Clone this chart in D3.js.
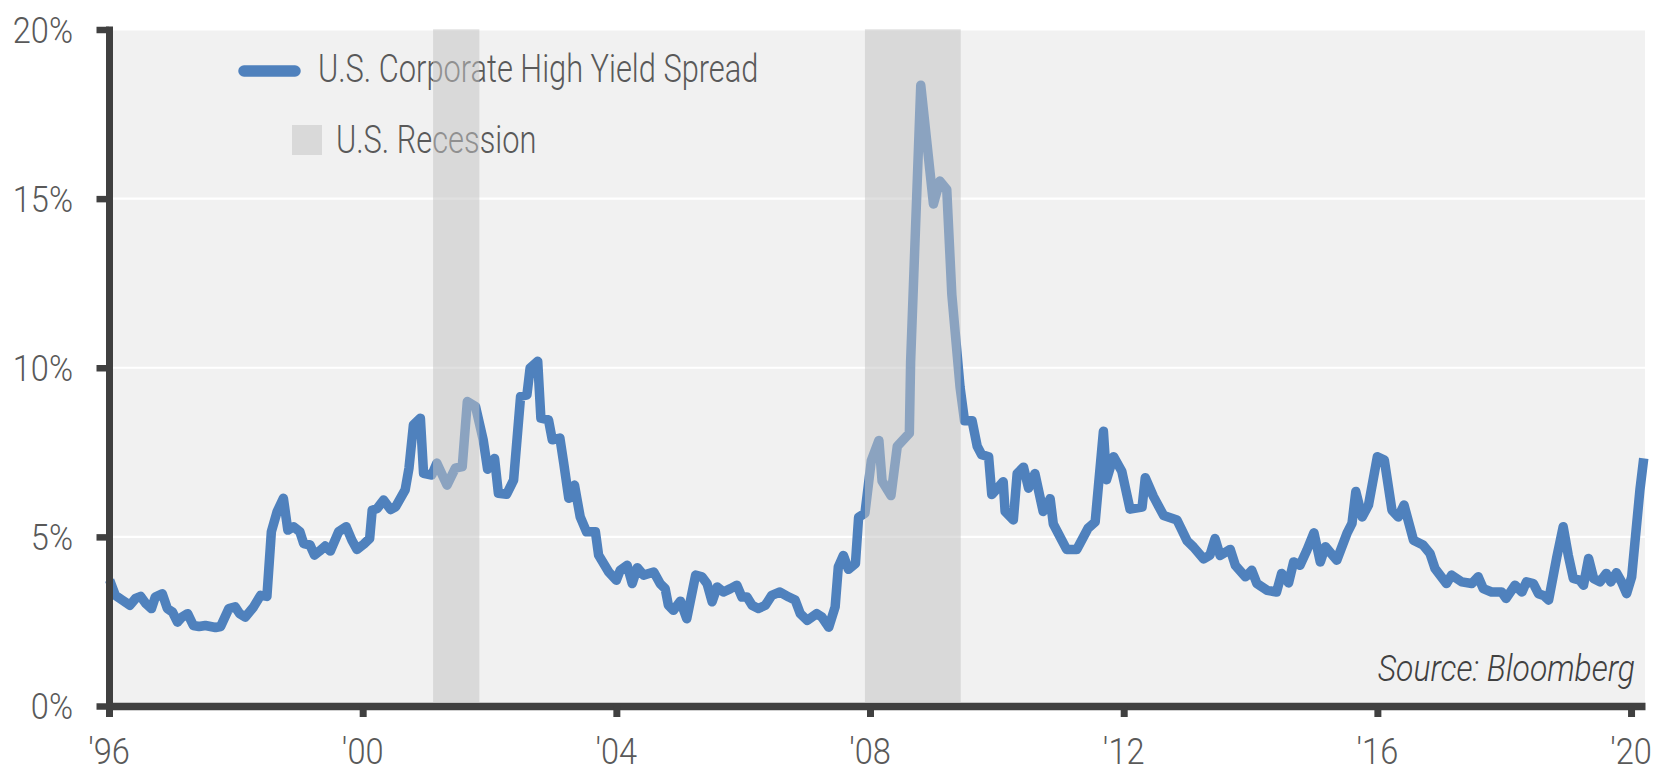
<!DOCTYPE html>
<html><head><meta charset="utf-8">
<script src="https://cdn.jsdelivr.net/npm/d3@7"></script>
<style>
body{margin:0;background:#fff}
svg{display:block}
text{font-family:Roboto,"Liberation Sans",sans-serif;font-weight:300}
</style>
</head><body>
<svg id="chart" width="1653" height="767"></svg>
<script>
// ---------- data ----------
const dates = [
1996.01,1996.10,1996.21,1996.33,1996.42,1996.50,1996.58,1996.67,1996.73,1996.84,1996.92,
1997.00,1997.08,1997.15,1997.24,1997.33,1997.42,1997.52,1997.68,1997.76,1997.89,1997.99,
1998.06,1998.15,1998.28,1998.39,1998.49,1998.56,1998.65,1998.75,1998.82,1998.91,
1999.01,1999.07,1999.17,1999.24,1999.32,1999.41,1999.49,1999.62,1999.74,1999.83,1999.91,
2000.02,2000.11,2000.15,2000.23,2000.33,2000.44,2000.52,2000.67,2000.73,2000.80,2000.91,2000.96,
2001.09,2001.17,2001.33,2001.46,2001.57,2001.65,2001.78,2001.90,2001.97,
2002.08,2002.14,2002.27,2002.38,2002.49,2002.59,2002.64,2002.76,2002.81,2002.93,2002.99,
2003.11,2003.17,2003.25,2003.34,2003.43,2003.53,2003.67,2003.72,2003.88,
2004.00,2004.06,2004.17,2004.25,2004.33,2004.43,2004.59,2004.69,2004.77,2004.82,2004.90,
2005.01,2005.11,2005.25,2005.35,2005.43,2005.51,2005.59,2005.69,2005.80,2005.90,2005.98,
2006.06,2006.14,2006.24,2006.35,2006.45,2006.58,2006.72,2006.82,2006.90,
2007.01,2007.16,2007.24,2007.35,2007.45,2007.50,2007.58,2007.66,2007.77,2007.82,2007.92,
2008.02,2008.14,2008.19,2008.33,2008.43,2008.62,2008.64,2008.80,
2009.00,2009.10,2009.21,2009.29,2009.42,2009.49,2009.61,2009.69,2009.76,2009.87,2009.92,
2010.10,2010.13,2010.26,2010.32,2010.42,2010.50,2010.60,2010.73,2010.84,2010.89,
2011.10,2011.26,2011.44,2011.55,2011.68,2011.73,2011.84,2011.97,
2012.10,2012.29,2012.34,2012.47,2012.63,2012.84,
2013.00,2013.10,2013.26,2013.36,2013.44,2013.52,2013.68,2013.76,2013.92,
2014.02,2014.10,2014.26,2014.41,2014.49,2014.60,2014.68,2014.78,2014.89,
2015.00,2015.10,2015.18,2015.36,2015.52,2015.60,2015.66,2015.76,2015.86,
2016.00,2016.11,2016.23,2016.33,2016.42,2016.57,2016.72,2016.83,2016.91,
2017.09,2017.17,2017.33,2017.49,2017.59,2017.67,2017.80,2017.96,
2018.03,2018.17,2018.28,2018.35,2018.46,2018.54,2018.62,2018.70,2018.77,2018.83,2018.93,
2019.01,2019.09,2019.19,2019.25,2019.33,2019.41,2019.51,2019.61,2019.68,2019.77,2019.85,2019.93,
2020.01,2020.06,2020.14,2020.20
];
const spread = [
3.72,3.27,3.13,2.98,3.18,3.24,3.03,2.88,3.22,3.32,2.88,
2.78,2.48,2.63,2.73,2.38,2.35,2.38,2.32,2.35,2.88,2.93,
2.73,2.63,2.93,3.27,3.24,5.15,5.74,6.14,5.20,5.30,
5.15,4.80,4.76,4.46,4.58,4.73,4.58,5.15,5.30,4.90,4.63,
4.79,4.95,5.79,5.84,6.09,5.81,5.89,6.39,7.03,8.31,8.51,6.88,
6.83,7.18,6.53,7.03,7.08,9.00,8.85,7.87,7.00,
7.32,6.29,6.26,6.68,9.15,9.20,9.99,10.19,8.51,8.46,7.87,
7.92,7.18,6.14,6.53,5.59,5.15,5.15,4.46,3.96,
3.72,4.01,4.16,3.62,4.09,3.87,3.96,3.62,3.47,2.98,2.83,
3.10,2.58,3.87,3.82,3.62,3.08,3.52,3.37,3.47,3.57,3.22,
3.22,2.98,2.88,2.98,3.27,3.37,3.22,3.13,2.73,
2.53,2.73,2.63,2.33,2.93,4.11,4.45,4.04,4.21,5.58,5.70,
7.25,7.85,6.65,6.22,7.68,8.06,10.17,18.35,
14.84,15.52,15.27,12.16,9.42,8.43,8.43,7.68,7.43,7.37,6.25,
6.63,5.75,5.50,6.87,7.06,6.44,6.87,5.75,6.13,5.38,
4.63,4.63,5.26,5.44,8.12,6.69,7.37,6.94,
5.82,5.88,6.75,6.19,5.63,5.50,
4.88,4.70,4.35,4.46,4.95,4.45,4.63,4.16,3.82,
4.01,3.62,3.42,3.37,3.92,3.64,4.26,4.16,4.61,
5.12,4.26,4.71,4.31,5.10,5.40,6.34,5.59,5.94,
7.37,7.27,5.79,5.59,5.94,4.90,4.76,4.51,4.06,
3.62,3.87,3.67,3.62,3.82,3.47,3.37,3.37,
3.18,3.57,3.37,3.67,3.62,3.32,3.27,3.13,3.82,4.41,5.30,
4.46,3.77,3.72,3.57,4.36,3.77,3.67,3.92,3.67,3.94,3.67,3.32,
3.82,4.81,6.39,7.32
];
const yTicks = [0, 5, 10, 15, 20];
const yTickLabels = ["0%", "5%", "10%", "15%", "20%"];
const xTicks = [1996, 2000, 2004, 2008, 2012, 2016, 2020];
const xTickLabels = ["'96", "'00", "'04", "'08", "'12", "'16", "'20"];
const recStart = [2001.11, 2007.92];
const recEnd = [2001.84, 2009.43];
const seriesName = "U.S. Corporate High Yield Spread";
const recessionName = "U.S. Recession";
const sourceText = "Source: Bloomberg";

// ---------- chart ----------
const svg = d3.select("#chart");
const x = d3.scaleLinear().domain([1996, 2020.22]).range([109, 1645]);
const y = d3.scaleLinear().domain([0, 20]).range([706, 29.5]);
const xR = x.range()[1];

// background
svg.append("rect")
  .attr("x", x(1996)).attr("y", y(20) + 1)
  .attr("width", xR - x(1996)).attr("height", y(0) - y(20) - 1)
  .attr("fill", "#f1f1f1");

// gridlines
svg.append("g").selectAll("line")
  .data(yTicks.filter(d => d > 0 && d < 20))
  .join("line")
  .attr("x1", x(1996)).attr("x2", xR)
  .attr("y1", d => y(d)).attr("y2", d => y(d))
  .attr("stroke", "#ffffff").attr("stroke-width", 2.2);

// series line
const pts = dates.map((d, i) => ({ d, v: spread[i] }));
svg.append("path").datum(pts)
  .attr("d", d3.line().x(p => x(p.d)).y(p => y(p.v)))
  .attr("fill", "none")
  .attr("stroke", "#4f81bd")
  .attr("stroke-width", 9.5)
  .attr("stroke-linejoin", "round")
  .attr("stroke-linecap", "butt");

// axes
const axisColor = "#404040";
const gx = svg.append("g").attr("transform", `translate(0,${y(0)})`)
  .call(d3.axisBottom(x).tickValues(xTicks).tickSize(11).tickSizeOuter(0).tickFormat(""));
gx.select(".domain").attr("stroke", axisColor).attr("stroke-width", 7.5);
gx.selectAll(".tick line").attr("stroke", axisColor).attr("stroke-width", 7);

const gy = svg.append("g").attr("transform", `translate(${x(1996)},0)`)
  .call(d3.axisLeft(y).tickValues(yTicks).tickSize(12.5).tickSizeOuter(0).tickFormat(""));
gy.select(".domain").attr("stroke", axisColor).attr("stroke-width", 7).attr("stroke-linecap", "square");
gy.selectAll(".tick line").attr("stroke", axisColor).attr("stroke-width", 6.5);

// condensed text helper
function ctext(parent, tx, ty, sx, str, opts) {
  const g = parent.append("g").attr("transform", `translate(${tx},${ty}) scale(${sx},1)`);
  const t = g.append("text").text(str)
    .attr("font-size", opts.size)
    .attr("fill", opts.fill || "#595959")
    .attr("text-anchor", opts.anchor || "start");
  if (opts.italic) t.attr("font-style", "italic");
  return t;
}

// y labels
yTicks.forEach((d, i) => ctext(svg, 73, y(d) + 13, 0.88, yTickLabels[i], { size: 37, anchor: "end" }));
// x labels
xTicks.forEach((d, i) => ctext(svg, x(d), 764, 0.88, xTickLabels[i], { size: 37, anchor: "middle" }));

// legend
svg.append("line").attr("x1", 244).attr("x2", 295).attr("y1", 71).attr("y2", 71)
  .attr("stroke", "#4f81bd").attr("stroke-width", 11.5).attr("stroke-linecap", "round");
ctext(svg, 318, 82.3, 0.79, seriesName, { size: 39 });
svg.append("rect").attr("x", 292).attr("y", 125).attr("width", 30).attr("height", 30)
  .attr("fill", "rgb(195,195,195)").attr("fill-opacity", 0.52);
ctext(svg, 336, 153.3, 0.79, recessionName, { size: 39 });

// source
ctext(svg, 1635, 680.5, 0.885, sourceText, { size: 36, anchor: "end", italic: true, fill: "#404040" });

// recession shading (drawn on top, semi-transparent)
svg.append("g").selectAll("rect")
  .data(recStart.map((s, i) => [s, recEnd[i]]))
  .join("rect")
  .attr("x", d => x(d[0])).attr("width", d => x(d[1]) - x(d[0]))
  .attr("y", y(20) - 0.2).attr("height", (y(0) - 4) - (y(20) - 0.2))
  .attr("fill", "rgb(195,195,195)").attr("fill-opacity", 0.52);
</script>
</body></html>
